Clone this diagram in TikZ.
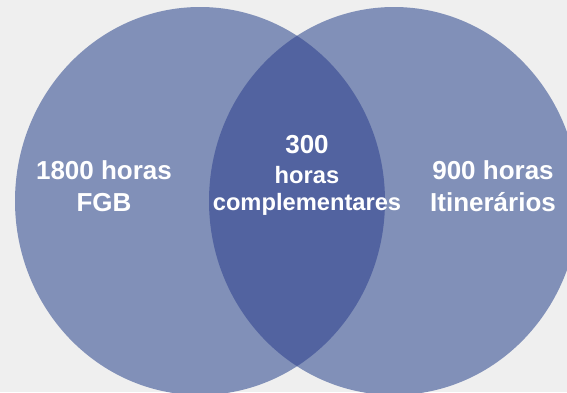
\documentclass[tikz,border=0pt]{standalone}
\usepackage{fontspec}
\setmainfont{Liberation Sans}
\usetikzlibrary{backgrounds}
\definecolor{bgGrey}{HTML}{EFEFEF}
\definecolor{vennLight}{HTML}{8190B8}
\definecolor{vennDark}{HTML}{5263A0}
\newcommand{\RadX}{185}
\newcommand{\RadY}{194}
\tikzset{Label/.style={
    inner sep=0pt,
    anchor=base,
    text=white,
    font=\bfseries\fontsize{26}{32}\selectfont,
    },
    SmallLabel/.style={
    Label,
    font=\bfseries\fontsize{23.7}{29}\selectfont,
    }
}

\begin{document}
\begin{tikzpicture}[x=1pt, y=-1pt]
    \fill [bgGrey] (0,0) rectangle (567,392);
    \useasboundingbox (0,0) rectangle (567,392);
    % the two sets
    \begin{scope}
        \clip (0,0) rectangle (567,392);
        \fill [vennLight] (200,201) ellipse [x radius=\RadX, y radius=\RadY];
        \fill [vennLight] (394,201) ellipse [x radius=\RadX, y radius=\RadY];
        \begin{scope}
            \clip (200,201) ellipse [x radius=\RadX, y radius=\RadY];
            \fill [vennDark] (394,201) ellipse [x radius=\RadX, y radius=\RadY];
        \end{scope}
    \end{scope}
    % left
    \node [Label] (fgbHours) at (104,179) {1800 horas};
    \node [Label] (fgbName) at (104,211) {FGB};
    % middle
    \node [Label] (compHours) at (307,153) {300};
    \node [SmallLabel] (compUnit) at (307,183) {horas};
    \node [SmallLabel] (compName) at (307,210) {complementares};
    % right
    \node [Label] (itinHours) at (493,179) {900 horas};
    \node [Label] (itinName) at (493,211) {Itinerários};
\end{tikzpicture}
\end{document}
